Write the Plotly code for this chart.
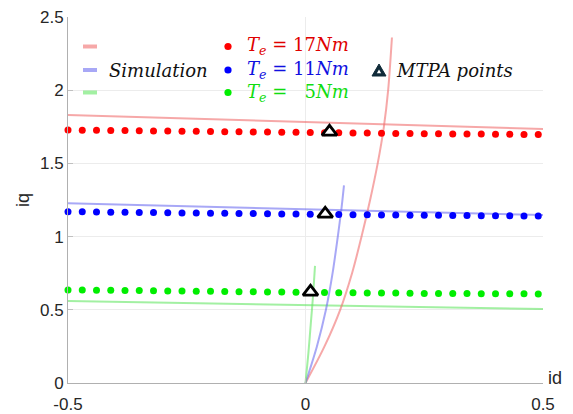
import plotly.graph_objects as go

# ---- data ----
id_pts = [-0.50, -0.47, -0.44, -0.41, -0.38, -0.35, -0.32, -0.29, -0.26, -0.23,
          -0.20, -0.17, -0.14, -0.11, -0.08, -0.05, -0.02, 0.01, 0.04, 0.07,
          0.10, 0.13, 0.16, 0.19, 0.22, 0.25, 0.28, 0.31, 0.34, 0.37,
          0.40, 0.43, 0.46, 0.49]
iq_17 = [1.728, 1.727, 1.726, 1.725, 1.724, 1.723, 1.722, 1.721, 1.720, 1.719,
         1.718, 1.717, 1.716, 1.715, 1.714, 1.713, 1.712, 1.711, 1.710, 1.709,
         1.708, 1.707, 1.706, 1.705, 1.704, 1.703, 1.702, 1.701, 1.700, 1.700,
         1.699, 1.699, 1.698, 1.698]
iq_11 = [1.170, 1.169, 1.168, 1.167, 1.166, 1.165, 1.164, 1.163, 1.162, 1.161,
         1.160, 1.159, 1.158, 1.157, 1.156, 1.155, 1.154, 1.153, 1.152, 1.151,
         1.150, 1.149, 1.148, 1.147, 1.146, 1.146, 1.145, 1.144, 1.144, 1.143,
         1.142, 1.142, 1.141, 1.140]
iq_5 = [0.636, 0.635, 0.634, 0.633, 0.632, 0.631, 0.630, 0.629, 0.628, 0.627,
        0.626, 0.625, 0.624, 0.623, 0.622, 0.621, 0.620, 0.619, 0.618, 0.617,
        0.616, 0.615, 0.614, 0.614, 0.613, 0.612, 0.612, 0.611, 0.611, 0.610,
        0.610, 0.609, 0.609, 0.608]

# simulation constant-torque lines
sim_id = [-0.5, 0.5]
sim_17 = [1.83, 1.735]
sim_11 = [1.227, 1.147]
sim_5 = [0.56, 0.505]

# simulation MTPA trajectories (id, iq)
mtpa17_id = [0.0, 0.040, 0.073, 0.098, 0.118, 0.136, 0.152, 0.165, 0.174, 0.182]
mtpa17_iq = [0.0, 0.25, 0.50, 0.75, 1.00, 1.25, 1.50, 1.75, 2.00, 2.36]
mtpa11_id = [0.0, 0.024, 0.043, 0.057, 0.068, 0.076, 0.081]
mtpa11_iq = [0.0, 0.25, 0.50, 0.75, 1.00, 1.20, 1.35]
mtpa5_id = [0.0, 0.006, 0.011, 0.016, 0.020]
mtpa5_iq = [0.0, 0.20, 0.40, 0.60, 0.80]

# MTPA points
mp_id = [0.0505, 0.0415, 0.0105]
mp_iq = [1.716, 1.155, 0.623]

x_ticks = [-0.5, 0, 0.5]
x_labels = ["-0.5", "0", "0.5"]
y_ticks = [0, 0.5, 1, 1.5, 2, 2.5]
y_labels = ["0", "0.5", "1", "1.5", "2", "2.5"]

RED, BLUE, GREEN = "#ff0000", "#0000ff", "#00ee00"
LRED, LBLUE, LGREEN = "rgba(240,110,110,0.6)", "rgba(110,110,240,0.6)", "rgba(100,230,100,0.6)"

fig = go.Figure()
for x, y, c in [(sim_id, sim_17, LRED), (sim_id, sim_11, LBLUE), (sim_id, sim_5, LGREEN),
                (mtpa17_id, mtpa17_iq, LRED), (mtpa11_id, mtpa11_iq, LBLUE),
                (mtpa5_id, mtpa5_iq, LGREEN)]:
    fig.add_trace(go.Scatter(x=x, y=y, mode="lines", line=dict(color=c, width=2,
                  shape="spline", smoothing=0.8), showlegend=False, hoverinfo="skip"))
for y, c in [(iq_17, RED), (iq_11, BLUE), (iq_5, GREEN)]:
    fig.add_trace(go.Scatter(x=id_pts, y=y, mode="markers",
                             marker=dict(color=c, size=7, line=dict(width=0)),
                             showlegend=False, cliponaxis=False))
fig.add_trace(go.Scatter(x=mp_id, y=mp_iq, mode="markers",
                         marker=dict(symbol="triangle-up", size=13, color="white",
                                     line=dict(color="black", width=2.8)),
                         showlegend=False))

# ---- layout geometry (page has an 8px body margin) ----
OFF = 8
W, H = 573 - OFF, 414 - OFF
L, T = 68 - OFF, 17 - OFF
pw, ph = 475, 366
R, B = W - L - pw, H - T - ph
def px(x): return (x - OFF - L) / pw
def py(y): return 1 - (y - OFF - T) / ph

shapes = []
for yy, c in [(46.5, LRED), (70, LBLUE), (92.5, LGREEN)]:
    shapes.append(dict(type="line", xref="paper", yref="paper",
                       x0=px(83), x1=px(97), y0=py(yy), y1=py(yy),
                       line=dict(color=c, width=4)))
for yy, c in [(46.5, RED), (70, BLUE), (92.5, GREEN)]:
    r = 3.6
    shapes.append(dict(type="circle", xref="paper", yref="paper",
                       x0=px(228 - r), x1=px(228 + r), y0=py(yy + r), y1=py(yy - r),
                       fillcolor=c, line=dict(width=0)))
# legend triangle
tx, ty = 379, 71
shapes.append(dict(type="path", xref="paper", yref="paper",
                   path=f"M {px(tx-7)} {py(ty+5)} L {px(tx+7)} {py(ty+5)} L {px(tx)} {py(ty-7)} Z",
                   fillcolor="#0f2a38", line=dict(color="#0f2a38", width=1)))
shapes.append(dict(type="path", xref="paper", yref="paper",
                   path=f"M {px(tx-2.2)} {py(ty+2.2)} L {px(tx+2.2)} {py(ty+2.2)} L {px(tx)} {py(ty-1.5)} Z",
                   fillcolor="white", line=dict(width=0)))

SERIF = "DejaVu Serif"
annots = [
    dict(text="<i>Simulation</i>", x=px(107), y=py(70), color="#111111"),
    dict(text="<i>T<sub>e</sub></i> = 17<i>Nm</i>", x=px(245), y=py(46), color="#e00000"),
    dict(text="<i>T<sub>e</sub></i> = 11<i>Nm</i>", x=px(245), y=py(70), color="#1010e0"),
    dict(text="<i>T<sub>e</sub></i> =   5<i>Nm</i>", x=px(245), y=py(93), color="#10dd10"),
    dict(text="<i>MTPA points</i>", x=px(394), y=py(70), color="#111111"),
]
annotations = []
for a in annots:
    annotations.append(dict(text=a["text"], x=a["x"], y=a["y"], xref="paper", yref="paper",
                            xanchor="left", yanchor="middle", showarrow=False,
                            font=dict(family=SERIF, size=18, color=a["color"])))
annotations.append(dict(text="id", x=1, y=0, xref="paper", yref="paper", xanchor="left",
                        yanchor="middle", xshift=3, yshift=5, showarrow=False,
                        font=dict(family="Liberation Sans, Arial", size=18, color="#262626")))

fig.update_layout(
    width=W, height=H, margin=dict(l=L, r=R, t=T, b=B, autoexpand=False),
    paper_bgcolor="white", plot_bgcolor="white",
    shapes=shapes, annotations=annotations, showlegend=False,
    font=dict(family="Liberation Sans, Arial", size=17, color="#262626"),
)
fig.update_xaxes(range=[-0.5, 0.5], tickvals=x_ticks, ticktext=x_labels, automargin=False,
                 showgrid=True, gridcolor="#ececec", gridwidth=1, zeroline=False,
                 showline=True, linecolor="#b0b0b0", linewidth=1, ticklabelstandoff=6,
                 ticklabeloverflow="allow",
                 ticks="inside", ticklen=5, tickcolor="#c0c0c0", mirror=False)
fig.update_yaxes(range=[0, 2.5], tickvals=y_ticks, ticktext=y_labels, automargin=False,
                 showgrid=True, gridcolor="#ececec", gridwidth=1, zeroline=False,
                 showline=True, linecolor="#b0b0b0", linewidth=1,
                 ticklabeloverflow="allow",
                 ticks="inside", ticklen=5, tickcolor="#c0c0c0", mirror=False,
                 title=dict(text="iq", standoff=5, font=dict(size=18)))
fig.write_html("out.html")
